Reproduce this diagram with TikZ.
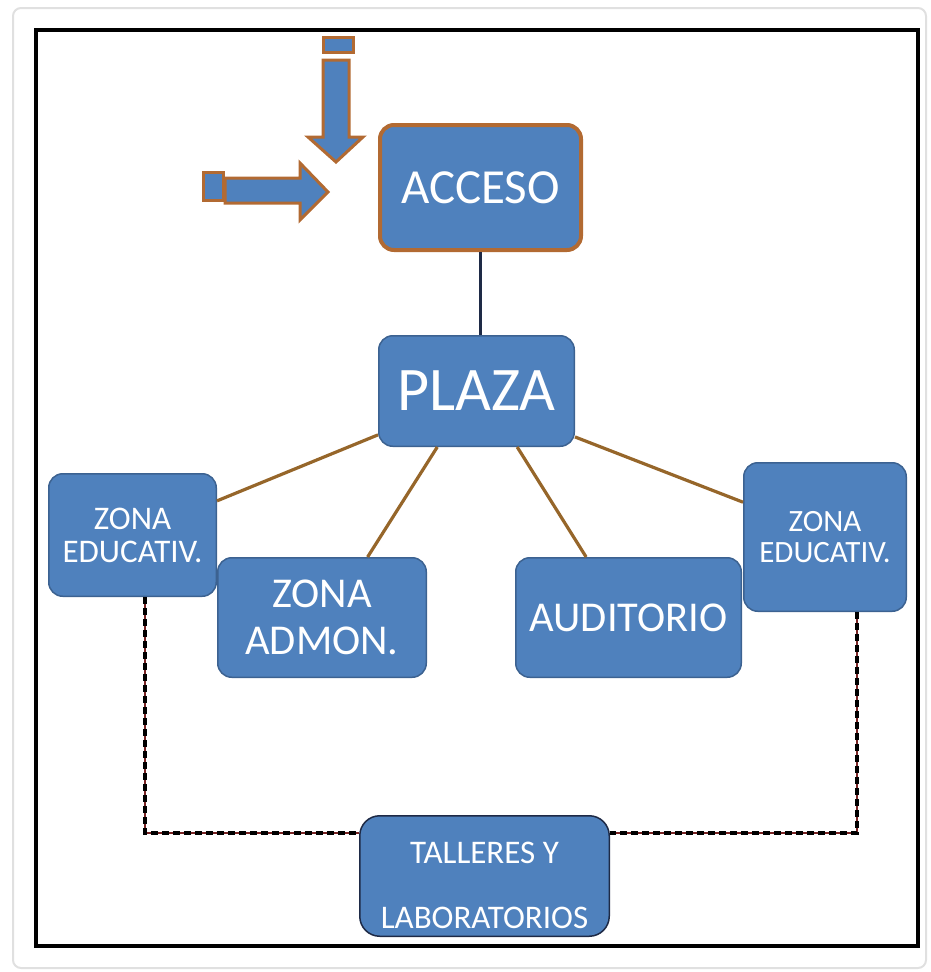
\documentclass[tikz,border=0pt]{standalone}
\usepackage{fontspec}
\setmainfont{Carlito}
\definecolor{tileBlue}{RGB}{79,129,189}
\definecolor{tileEdge}{RGB}{60,98,145}
\definecolor{rust}{RGB}{178,106,50}
\definecolor{ochre}{RGB}{150,102,42}
\definecolor{navy}{RGB}{30,42,70}
\definecolor{maroon}{RGB}{120,35,35}

\begin{document}
\begin{tikzpicture}[x=1pt, y=-1pt,
      tile/.style={rectangle, rounded corners=14pt, draw=tileEdge, line width=1.5pt, fill=tileBlue,
                   text=white, align=center, inner sep=0pt},
      spoke/.style={draw=ochre, line width=3.2pt},
      dashlink/.style={draw=black, line width=4pt, dash pattern=on 7pt off 4pt,
                       preaction={draw=maroon, line width=1.6pt, solid}},
      block/.style={fill=tileBlue, draw=rust, line width=3pt, line join=miter}]
    \useasboundingbox (0,0) rectangle (931,972);
    \draw[black!12, line width=2pt, rounded corners=8pt] (13,8) rectangle (926,968);
    \draw[line width=3.2pt] (36,30) rectangle (918,946);

    % entry arrows
    \filldraw[block] (323,37) rectangle (353,52);
    \filldraw[block] (323,60) -- (349,60) -- (349,137) -- (363,137) -- (336,162) -- (308,137) -- (323,137) -- cycle;
    \filldraw[block] (203,172) rectangle (223,200);
    \filldraw[block] (225,178) -- (300,178) -- (300,163) -- (328,192) -- (300,220) -- (300,203) -- (225,203) -- cycle;

    \node[tile, draw=rust, line width=4pt, minimum width=201pt, minimum height=125pt,
          font=\fontsize{49}{52}\selectfont] (acceso) at (480.5,187.5) {ACCESO};
    \node[tile, minimum width=195.5pt, minimum height=110.5pt,
          font=\fontsize{62}{65}\selectfont] (plaza) at (476.5,391) {PLAZA};
    \node[tile, minimum width=167.5pt, minimum height=122.5pt,
          font=\fontsize{33}{33}\selectfont] (zel) at (132.5,535) {ZONA\\EDUCATIV.};
    \node[tile, minimum width=208.5pt, minimum height=119.5pt,
          font=\fontsize{42.5}{47}\selectfont] (admon) at (322,617.5) {ZONA\\ADMON.};
    \node[tile, minimum width=225.5pt, minimum height=119.5pt,
          font=\fontsize{42.5}{45}\selectfont] (aud) at (628.5,617.5) {AUDITORIO};
    \node[tile, minimum width=162.5pt, minimum height=148.5pt,
          font=\fontsize{31}{31}\selectfont] (zer) at (825,537) {ZONA\\EDUCATIV.};
    \node[tile, draw=navy, rounded corners=20pt, minimum width=249.5pt, minimum height=120.5pt,
          font=\fontsize{33}{65}\selectfont] (tall) at (484.5,876) {\rule{0pt}{41pt}TALLERES Y\\LABORATORIOS};

    \draw[navy, line width=3pt] (acceso.south) -- (acceso.south |- plaza.north);
    \draw[spoke] (plaza.204) -- (zel.22);
    \draw[spoke] (plaza.235) -- (admon.53);
    \draw[spoke] (plaza.306) -- (aud.125);
    \draw[spoke] (plaza.335) -- (zer.157);

    \draw[dashlink] ([xshift=12.5pt]zel.south) |- (tall.161);
    \draw[dashlink] ([xshift=32pt]zer.south) |- (tall.19);
  \end{tikzpicture}
\end{document}
